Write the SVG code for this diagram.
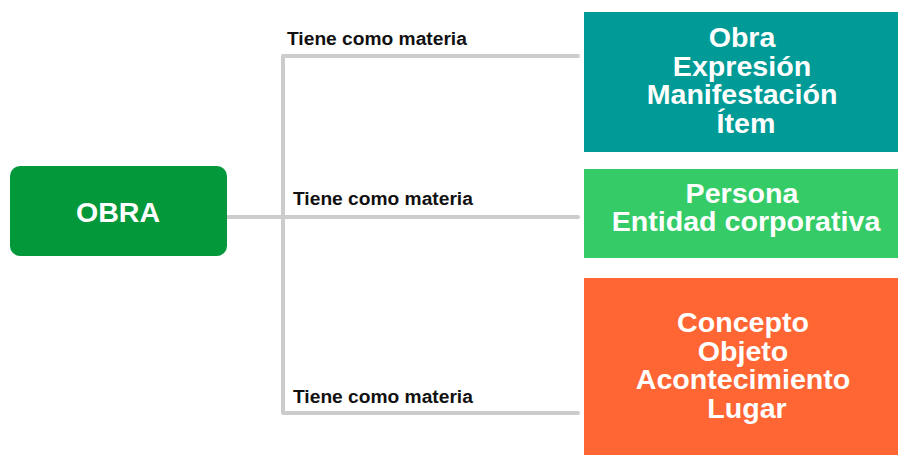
<svg xmlns="http://www.w3.org/2000/svg" width="898" height="455" viewBox="0 0 898 455">
  <style>
    .conn { fill: none; stroke: #cccccc; stroke-width: 4; stroke-linejoin: round; stroke-linecap: round; }
    .lbl { font-family: "Liberation Sans", Arial, sans-serif; font-weight: bold; font-size: 19.2px; fill: #111111; }
    .box { font-family: "Liberation Sans", Arial, sans-serif; font-weight: bold; font-size: 27px; fill: #ffffff; text-anchor: middle; }
  </style>
  <rect x="0" y="0" width="898" height="455" fill="#ffffff"/>
  <g id="connectors">
    <path class="conn" d="M227,217 H578"/>
    <path class="conn" d="M578,56 H283 V413 H578"/>
    <text class="lbl" x="287" y="45">Tiene como materia</text>
    <text class="lbl" x="293" y="205">Tiene como materia</text>
    <text class="lbl" x="293" y="403">Tiene como materia</text>
  </g>
  <g id="node-obra">
    <rect x="10" y="166" width="217" height="90" rx="10" ry="10" fill="#03983a"/>
    <text class="box" transform="translate(118,0) scale(1.06,1)" x="0" y="222">OBRA</text>
  </g>
  <g id="node-wemi">
    <rect x="584" y="12" width="314" height="140" fill="#009b96"/>
    <text class="box" transform="translate(746,0) scale(1.06,1)">
      <tspan x="0" y="47">Obra</tspan>
      <tspan x="0" y="75.7">Expresión</tspan>
      <tspan x="0" y="104.4">Manifestación</tspan>
      <tspan x="0" y="133">Ítem</tspan>
    </text>
  </g>
  <g id="node-agentes">
    <rect x="584" y="169" width="314" height="89" fill="#35cc68"/>
    <text class="box" transform="translate(746,0) scale(1.06,1)">
      <tspan x="0" y="203">Persona</tspan>
      <tspan x="0" y="231.5">Entidad corporativa</tspan>
    </text>
  </g>
  <g id="node-temas">
    <rect x="584" y="278" width="314" height="177" fill="#ff6634"/>
    <text class="box" transform="translate(747,0) scale(1.06,1)">
      <tspan x="0" y="332">Concepto</tspan>
      <tspan x="0" y="360.7">Objeto</tspan>
      <tspan x="0" y="389.4">Acontecimiento</tspan>
      <tspan x="0" y="418">Lugar</tspan>
    </text>
  </g>
</svg>
